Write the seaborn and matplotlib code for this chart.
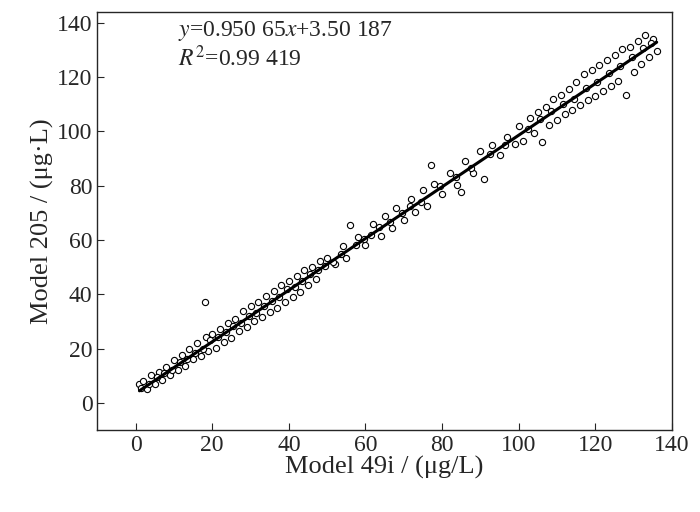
import numpy as np
import matplotlib
matplotlib.use("Agg")
import matplotlib.pyplot as plt
import seaborn as sns

sns.set_style("ticks")
plt.rcParams['font.family'] = 'serif'
plt.rcParams['font.serif'] = ['Liberation Serif', 'Times New Roman', 'DejaVu Serif']
plt.rcParams['mathtext.fontset'] = 'stix'

# 数据：Model 49i (x) 与 Model 205 (y)
x49i = [1, 2, 3, 4, 5, 6, 7, 8, 9, 10, 11, 12, 13, 14, 15, 16, 17, 18, 18.5, 19,
        20, 21, 22, 23, 24, 25, 26, 27, 28, 29, 30, 31, 32, 33, 34, 35, 36, 37, 38, 39,
        40, 41, 42, 43, 44, 45, 46, 47, 48, 50, 52, 54, 55, 56, 58, 60, 62, 64, 65, 67,
        68, 70, 72, 73, 75, 76, 77, 78, 80, 82, 84, 85, 86, 88, 90, 91, 93, 95, 97, 99,
        100, 101, 103, 104, 105, 106, 107, 108, 109, 110, 111, 112, 113, 114, 115, 116,
        117, 118, 119, 120, 121, 122, 123, 124, 125, 126, 127, 128, 129, 130, 131, 132,
        133, 134, 135, 136,
        1.5, 3.5, 5.5, 7.5, 9.5, 11.5, 13.5, 15.5, 17.5, 19.5, 21.5, 23.5, 25.5, 27.5,
        29.5, 31.5, 33.5, 35.5, 37.5, 39.5, 41.5, 43.5, 45.5, 47.5, 49.5, 51.5, 53.5,
        57.5, 59.5, 61.5, 63.5, 66.5, 69.5, 71.5, 74.5, 79.5, 83.5, 87.5, 92.5, 96.5,
        102.5, 105.5, 108.5, 111.5, 114.5, 117.5, 120.5, 123.5, 126.5, 129.5, 132.5, 134.5]
y205 = [6.8, 7.9, 5.2, 10.1, 7.0, 11.5, 8.6, 13.4, 10.2, 15.8, 12.1, 17.6, 13.5, 19.9,
        16.0, 22.1, 17.2, 37.0, 24.3, 19.0, 25.4, 20.1, 27.2, 22.3, 29.5, 24.0, 30.9, 26.5,
        33.8, 28.0, 35.6, 30.2, 37.1, 31.8, 39.4, 33.6, 41.2, 35.0, 43.3, 37.2, 45.0, 38.9,
        46.8, 41.0, 48.9, 43.5, 50.1, 45.6, 52.3, 53.5, 51.0, 57.9, 53.2, 65.5, 60.9, 58.0,
        66.0, 61.5, 68.8, 64.4, 71.9, 67.5, 75.1, 70.2, 78.3, 72.6, 87.5, 80.6, 76.9, 84.8,
        80.2, 77.5, 88.9, 84.6, 92.8, 82.5, 94.8, 91.2, 97.9, 95.3, 101.9, 96.4, 104.8, 99.5,
        107.0, 96.0, 109.1, 102.5, 111.8, 104.3, 113.5, 106.2, 115.7, 108.0, 118.2, 109.6,
        121.0, 111.5, 122.5, 113.0, 124.3, 114.8, 126.1, 116.5, 128.0, 118.6, 130.2, 113.5,
        131.0, 122.0, 133.1, 124.6, 135.5, 127.2, 134.0, 129.5,
        5.5, 7.0, 9.5, 11.0, 12.2, 15.0, 16.1, 18.5, 19.8, 23.0, 24.1, 26.0, 28.5, 29.5,
        32.0, 33.2, 35.5, 37.5, 39.0, 41.8, 42.5, 45.0, 47.5, 49.0, 50.5, 52.0, 55.0,
        58.0, 60.2, 62.0, 64.8, 66.5, 69.8, 72.5, 74.0, 80.0, 83.0, 86.5, 91.5, 95.0,
        101.0, 104.5, 107.5, 110.0, 112.0, 116.0, 118.0, 121.5, 124.0, 127.5, 130.5, 132.5]
slope, intercept = 0.95065, 3.50187

fig = plt.figure(figsize=(7, 5.12), dpi=100)
ax = fig.add_axes([0.139, 0.16, 0.821, 0.817])
sns.scatterplot(x=x49i, y=y205, ax=ax, s=20, facecolor='white', edgecolor='black',
                linewidth=0.8, zorder=2)
xl = np.array([min(x49i), max(x49i)])
sns.lineplot(x=xl, y=slope * xl + intercept, ax=ax, color='black', linewidth=2.2, zorder=3)

ax.set_xlim(-10, 140)
ax.set_ylim(-10, 144)
ax.set_xticks(range(0, 141, 20))
ax.set_yticks(range(0, 141, 20))
ax.tick_params(direction='in', labelsize=17, length=5, width=0.8)
for s in ax.spines.values():
    s.set_linewidth(1.0)
ax.set_xlabel('Model 49i / (μg/L)', fontsize=19, labelpad=0)
ax.set_ylabel('Model 205 / (μg·L)', fontsize=19, labelpad=2)
ax.text(11, 141.5, '$y$=0.950 65$x$+3.50 187', fontsize=17, va='top')
ax.text(11, 131.5, '$R^2$=0.99 419', fontsize=17, va='top')

fig.savefig('out.png', dpi=100)
